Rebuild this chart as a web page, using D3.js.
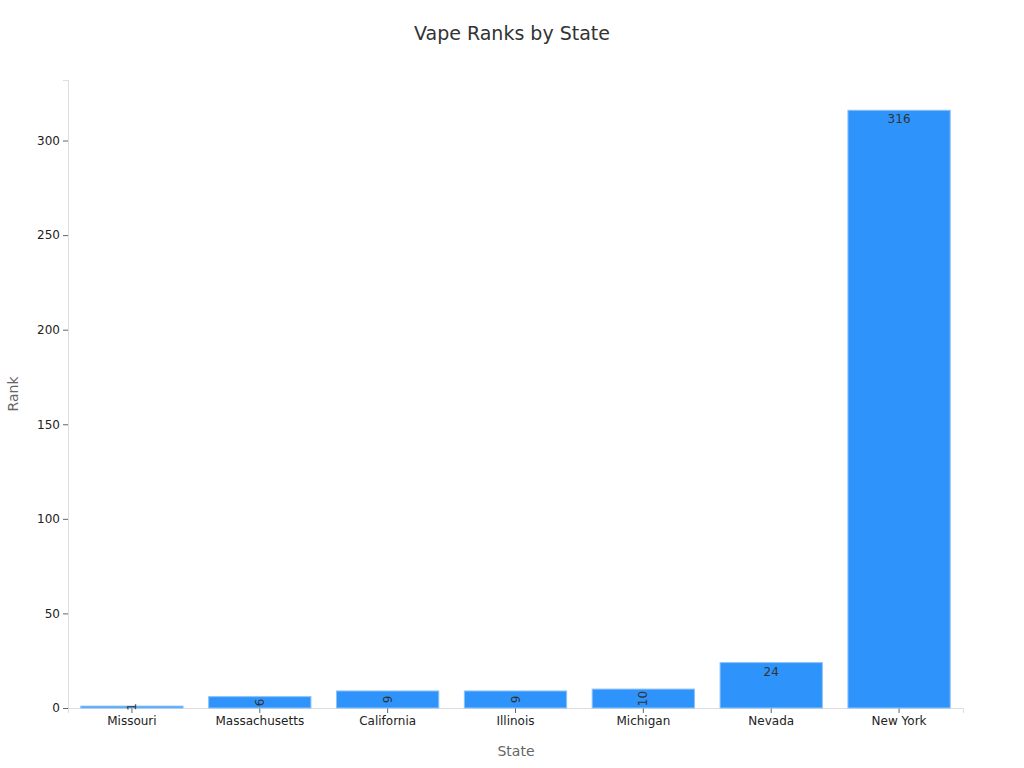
<!DOCTYPE html>
<html><head><meta charset="utf-8">
<script src="https://cdn.jsdelivr.net/npm/d3@7"></script>
<style>body{margin:0;background:#fff;font-family:"DejaVu Sans",sans-serif}</style>
</head><body><svg id="c" width="1024" height="768"></svg>
<script>
const states = ["Missouri","Massachusetts","California","Illinois","Michigan","Nevada","New York"];
const ranks = [1,6,9,9,10,24,316];
const yTicks = [0,50,100,150,200,250,300];

const svg = d3.select("#c");
const m = {l:68,r:963,t:80,b:708};
const x = d3.scaleBand().domain(states).range([m.l,m.r]).paddingInner(0.2).paddingOuter(0.1);
const y = d3.scaleLinear().domain([0,332]).range([m.b,m.t]);

svg.append("text").attr("x",512).attr("y",40).attr("text-anchor","middle")
  .attr("font-size",19).attr("fill","#333").text("Vape Ranks by State");

const gx = svg.append("g").attr("transform",`translate(0,${m.b})`).call(d3.axisBottom(x).tickSizeOuter(0).tickSize(5));
const gy = svg.append("g").attr("transform",`translate(${m.l},0)`).call(d3.axisLeft(y).tickValues(yTicks).tickSizeOuter(0).tickSize(5));
[gx,gy].forEach(g=>{g.select(".domain").attr("stroke","#ddd");g.selectAll(".tick line").attr("stroke","#666");
  g.selectAll("text").attr("font-size",12).attr("fill","#222").attr("font-family","DejaVu Sans");});

svg.selectAll("rect.b").data(states).enter().append("rect")
  .attr("x",d=>x(d)).attr("width",x.bandwidth())
  .attr("y",(d,i)=>y(ranks[i])).attr("height",(d,i)=>m.b-y(ranks[i]))
  .attr("fill","#2e93fa").attr("stroke","#8cc2f8").attr("stroke-width",1);

states.forEach((s,i)=>{
  const h = m.b-y(ranks[i]); const cx = x(s)+x.bandwidth()/2;
  const t = svg.append("text").attr("font-size",12).attr("fill","#333").attr("text-anchor","middle").text(ranks[i]);
  if (h>=20) t.attr("x",cx).attr("y",y(ranks[i])+13);
  else t.attr("transform",`translate(${cx+4},${y(ranks[i])+h/2}) rotate(-90)`).attr("dominant-baseline","auto").attr("y",0);
});

svg.append("text").attr("x",516).attr("y",756).attr("text-anchor","middle").attr("font-size",14).attr("fill","#666").text("State");
svg.append("text").attr("transform","translate(18,394) rotate(-90)").attr("text-anchor","middle").attr("font-size",14).attr("fill","#666").text("Rank");
</script></body></html>
